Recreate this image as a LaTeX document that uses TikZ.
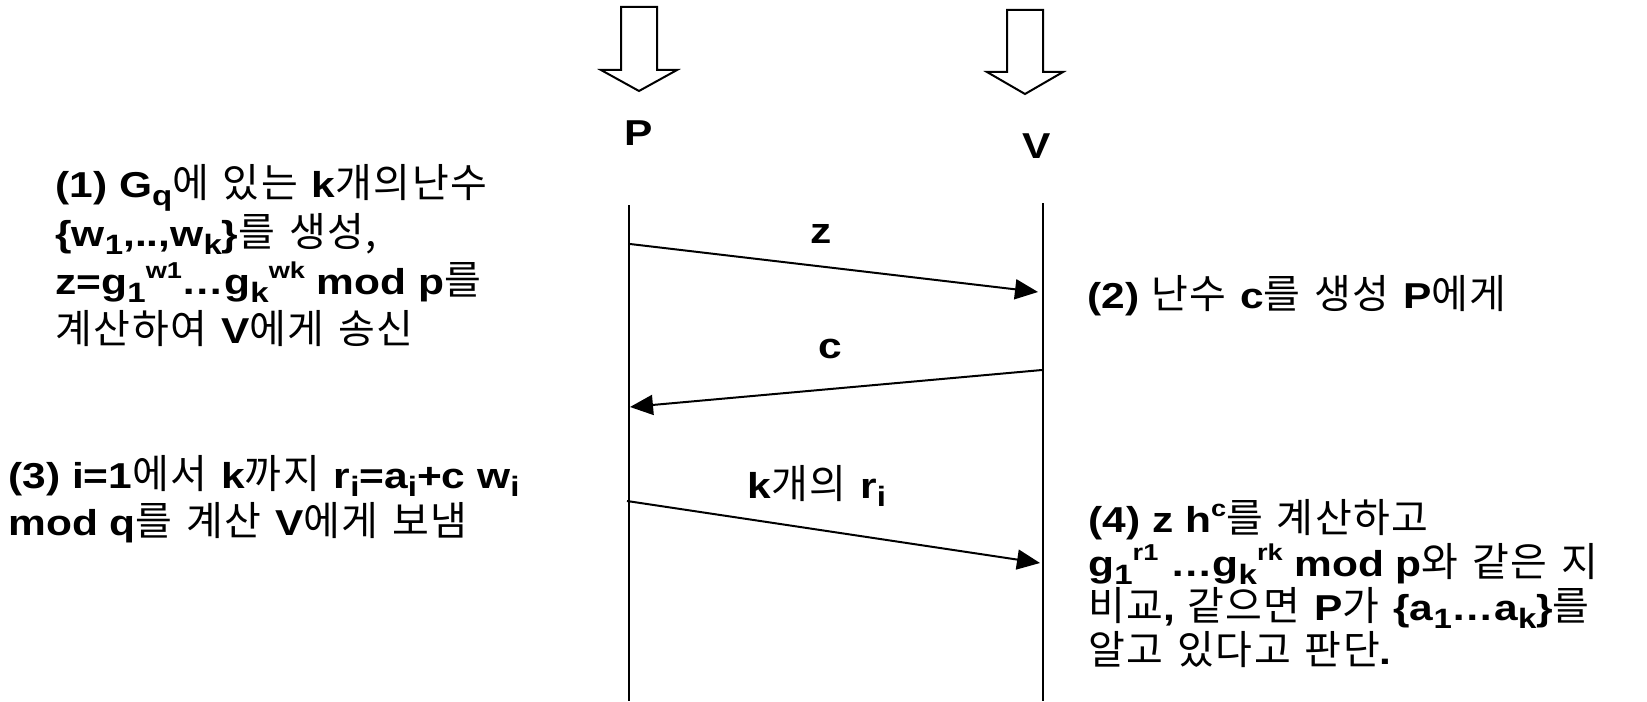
\documentclass[tikz,border=0pt]{standalone}
\usepackage{fontspec}
\setmainfont{Liberation Sans}[FakeStretch=1.18]
\newfontfamily\kr{Noto Sans CJK KR}[WordSpace=1.3,LetterSpace=4]
\usetikzlibrary{arrows.meta}
\newcommand\K[1]{{\kr\mdseries\fontsize{20}{20}\selectfont #1}}
\newcommand\dn[1]{\raisebox{-4pt}{\fontsize{14}{14}\selectfont #1}}
\newcommand\up[1]{\raisebox{8pt}{\fontsize{11.5}{11.5}\selectfont #1}}
\newcommand\fs[1]{\bfseries\fontsize{18}{#1}\selectfont\lineskiplimit=-30pt}
\tikzset{
  txt/.style={font=\fs{22}, inner sep=0pt, align=left, anchor=base west},
  lbl/.style={font=\fs{22}, inner sep=0pt, anchor=base},
  life/.style={line width=1pt},
  msg/.style={line width=1pt, -{Triangle[length=11.5pt,width=10pt]}},
  blk/.style={draw, line width=1pt, fill=white}
}
\begin{document}
\begin{tikzpicture}[x=0.5pt,y=-0.5pt]
\useasboundingbox (0,0) rectangle (1647,701);
% block arrows
\draw[blk] (621,7) -- (657,7) -- (657,70) -- (677,70) -- (639,91) -- (601,70) -- (621,70) -- cycle;
\draw[blk] (1007,10) -- (1043,10) -- (1043,72) -- (1063,72) -- (1025,94) -- (987,72) -- (1007,72) -- cycle;
% participants
\node[lbl] (P) at (639,145) {P};
\node[lbl] (V) at (1037,158) {V};
% lifelines
\coordinate (Ptop) at (629,205);
\coordinate (Pbot) at (629,701);
\coordinate (Vtop) at (1043,203);
\coordinate (Vbot) at (1043,701);
\draw[life] (Ptop) -- (Pbot);
\draw[life] (Vtop) -- (Vbot);
% messages
\coordinate (zs) at (630,244);
\coordinate (ze) at (1038,292);
\coordinate (cs) at (1042,370);
\coordinate (ce) at (630,407);
\coordinate (rs) at (627,501);
\coordinate (re) at (1040,563);
\draw[msg] (zs) -- (ze);
\draw[msg] (cs) -- (ce);
\draw[msg] (rs) -- (re);
\node[lbl] (zl) at (821,243) {z};
\node[lbl] (cl) at (830,358) {c};
\node[lbl] (rl) at (817,498) {k\K{개의 }r\dn{i}};
% texts
\node[txt, font=\fs{24.2}] (t1) at (55,343) {(1) G\dn{q}\K{에 있는 }k\K{개의난수}\\
\{w\dn{1},..,w\dn{k}\}\K{를 생성,}\\
z=g\dn{1}\up{w1}…g\dn{k}\up{wk} mod p\K{를}\\
\K{계산하여 }V\K{에게 송신}};
\node[txt] (t2) at (1087,308) {(2) \K{난수 }c\K{를 생성 }P\K{에게}};
\node[txt, font=\fs{23.5}] (t3) at (8,535) {(3) i=1\K{에서 }k\K{까지 }r\dn{i}=a\dn{i}+c w\dn{i}\\
mod q\K{를 계산 }V\K{에게 보냄}};
\node[txt, font=\fs{22}] (t4) at (1088,664) {(4) z h\up{c}\K{를 계산하고}\\
g\dn{1}\up{r1} …g\dn{k}\up{rk} mod p\K{와 같은 지}\\
\K{비교}, \K{같으면 }P\K{가 }\{a\dn{1}…a\dn{k}\}\K{를}\\
\K{알고 있다고 판단}.};
\end{tikzpicture}
\end{document}
